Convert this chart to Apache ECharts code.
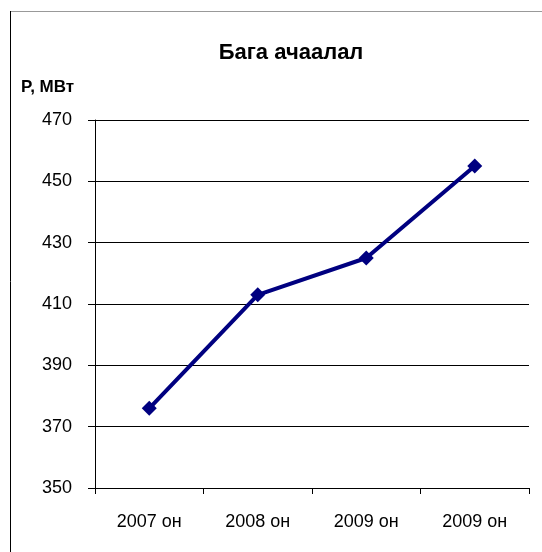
<!DOCTYPE html>
<html><head><meta charset="utf-8">
<script src="https://cdn.jsdelivr.net/npm/echarts@6/dist/echarts.min.js"></script>
<style>html,body{margin:0;padding:0;background:#fff}#c{width:542px;height:552px}</style>
</head><body><div id="c"></div>
<script>
const categories = ["2007 он", "2008 он", "2009 он", "2009 он"];
const values = [376, 413, 425, 455];
const yTicks = { min: 350, max: 470, interval: 20 };
const titleText = "Бага ачаалал";
const yName = "P, МВт";

const chart = echarts.init(document.getElementById('c'));
chart.setOption({
  animation: false,
  backgroundColor: '#fff',
  title: {
    text: titleText, left: 286, top: 37, textAlign: 'center',
    textStyle: { fontFamily: 'Liberation Sans', fontSize: 22, fontWeight: 'bold', color: '#000' }
  },
  graphic: [
    { type: 'line', shape: { x1: 10, y1: 11.5, x2: 542, y2: 11.5 }, style: { stroke: '#999', lineWidth: 1 } },
    { type: 'line', shape: { x1: 10.5, y1: 11, x2: 10.5, y2: 552 }, style: { stroke: '#000', lineWidth: 1 } },
    { type: 'text', left: 21, top: 79, style: { text: yName, font: 'bold 17px "Liberation Sans"', fill: '#000' } }
  ],
  grid: { left: 95, top: 120, width: 434, height: 368, containLabel: false },
  xAxis: {
    type: 'category', data: categories, boundaryGap: true,
    axisLine: { lineStyle: { color: '#000', width: 1 } },
    axisTick: { show: true, length: 6, lineStyle: { color: '#000' } },
    axisLabel: { margin: 25, fontFamily: 'Liberation Sans', fontSize: 18, color: '#000' }
  },
  yAxis: {
    type: 'value', min: yTicks.min, max: yTicks.max, interval: yTicks.interval,
    axisLine: { show: true, lineStyle: { color: '#000', width: 1 } },
    axisTick: { show: true, length: 7, lineStyle: { color: '#000' } },
    axisLabel: { margin: 23, fontFamily: 'Liberation Sans', fontSize: 18, color: '#000' },
    splitLine: { show: true, lineStyle: { color: '#000', width: 1 } }
  },
  series: [{
    type: 'line', data: values,
    lineStyle: { color: '#000080', width: 4 },
    itemStyle: { color: '#000080' },
    symbol: 'diamond', symbolSize: 15, showSymbol: true
  }]
});
</script></body></html>
